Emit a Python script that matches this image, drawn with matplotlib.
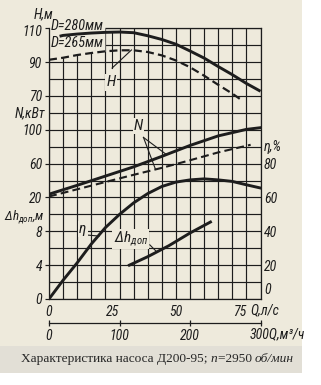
import matplotlib
matplotlib.use('Agg')
import matplotlib.pyplot as plt
from matplotlib.patches import Rectangle
from matplotlib.ticker import MultipleLocator
from matplotlib import font_manager as fm
import numpy as np

# ---------------- data ----------------
q_h280 = [15, 20, 40, 60, 80, 100, 120, 140, 160, 180, 200, 220, 240, 260, 280, 300]
h_280 = [105.3, 105.8, 106.6, 107.2, 107.6, 107.8, 107.4, 105.6, 103.4, 100.6, 96.6, 92.4, 87.4, 82.6, 77.4, 72.8]
q_h265 = [0, 20, 40, 60, 80, 100, 120, 140, 160, 180, 200, 220, 240, 260, 271]
h_265 = [91.4, 92.6, 94.2, 95.4, 96.4, 97.0, 97.0, 96.0, 94.0, 91.0, 87.0, 82.0, 76.6, 71.4, 68.2]
q_n280 = [0, 40, 80, 120, 160, 200, 240, 280, 300]
n_280 = [23.9, 34.4, 45.3, 56.2, 68.6, 81.5, 92.8, 100.5, 102.5]
q_n265 = [0, 40, 80, 120, 160, 200, 240, 286]
n_265 = [21.2, 29.7, 38.3, 46.8, 55.0, 64.0, 73.3, 82.3]
q_eta = [0, 20, 40, 60, 80, 100, 120, 140, 160, 180, 200, 220, 240, 260, 280, 300]
eta = [0, 11.1, 21.4, 32.5, 42.2, 50.0, 56.8, 62.3, 66.5, 69.1, 70.4, 71.0, 70.4, 69.5, 67.5, 65.6]
q_dh = [114, 140, 170, 200, 229]
dh = [4.0, 5.0, 6.3, 7.8, 9.1]

q_ls_ticks = [0, 90, 180, 270]
q_ls_labels = ['0', '25', '50', '75']
q_m3_ticks = [0, 100, 200, 300]
q_m3_labels = ['0', '100', '200', '']
h_ticks = [70, 90, 110]
n_ticks = [20, 60, 100]
dh_ticks = [0, 4, 8]
eta_ticks = [0, 20, 40, 60, 80]

# ---------------- style ----------------
BG = '#eeeadc'
BAND = '#e2dfd6'
INK = '#1d1d1d'

_names = {f.name for f in fm.fontManager.ttflist}
FONT, FS = ['DejaVu Sans'], 8.6
for cand, size in [('Roboto Condensed', 10), ('Liberation Sans Narrow', 10),
                   ('DejaVu Sans Condensed', 9.5), ('Roboto', 9.6), ('Liberation Sans', 9.6)]:
    if cand in _names:
        FONT, FS = [cand, 'DejaVu Sans'], size
        break
plt.rcParams['font.family'] = FONT
plt.rcParams['font.style'] = 'italic'
plt.rcParams['mathtext.fontset'] = 'custom'
plt.rcParams['mathtext.rm'] = FONT[0] + ':italic'
plt.rcParams['mathtext.it'] = FONT[0] + ':italic'

W, H = 321, 385
fig = plt.figure(figsize=(W / 100, H / 100), dpi=100, facecolor='white')
fig.patches.append(Rectangle((0, 1 - 346 / H), 302 / W, 346 / H, transform=fig.transFigure,
                             facecolor=BG, edgecolor='none', zorder=-10))
fig.patches.append(Rectangle((0, 1 - 373 / H), 302 / W, 27 / H, transform=fig.transFigure,
                             facecolor=BAND, edgecolor='none', zorder=-10))

L, R, T, B = 49, 260.5, 28.3, 299
ax = fig.add_axes([L / W, 1 - B / H, (R - L) / W, (B - T) / H])
ax.set_facecolor('none')
ax.set_xlim(0, 300)
ax.set_ylim(0, 32)
ax.xaxis.remove_overlapping_locs = False
ax.yaxis.remove_overlapping_locs = False
ax.xaxis.set_minor_locator(MultipleLocator(20))
ax.yaxis.set_minor_locator(MultipleLocator(2))
ax.grid(which='minor', color=INK, lw=0.85)
ax.grid(which='major', visible=False)
ax.set_xticks(q_ls_ticks)
ax.set_xticklabels(q_ls_labels)
ax.set_yticks(dh_ticks)
ax.tick_params(axis='x', which='both', length=0, pad=4.5, labelsize=FS, colors=INK)
ax.tick_params(axis='y', which='minor', length=0)
ax.tick_params(axis='y', which='major', length=3, width=0.85, pad=2, labelsize=FS, colors=INK)
for s in ['left', 'right']:
    ax.spines[s].set_visible(False)
for s in ['top', 'bottom']:
    ax.spines[s].set_color(INK)
    ax.spines[s].set_linewidth(0.9)

# N axis
ax_n = ax.twinx()
ax_n.yaxis.tick_left()
ax_n.set_ylim(-100, 220)
ax_n.set_yticks(n_ticks)
ax_n.tick_params(axis='y', length=3, width=0.85, pad=2, labelsize=FS, colors=INK)
# H axis
ax_h = ax.twinx()
ax_h.yaxis.tick_left()
ax_h.set_ylim(-50, 110)
ax_h.set_yticks(h_ticks)
ax_h.set_yticklabels(['70', '90', ''])
ax_h.tick_params(axis='y', length=3, width=0.85, pad=2, labelsize=FS, colors=INK)
# efficiency axis
ax_e = ax.twinx()
ax_e.set_ylim(0, 160)
ax_e.set_yticks(eta_ticks)
ax_e.set_yticklabels([''] + [str(v) for v in eta_ticks[1:]])
ax_e.tick_params(axis='y', length=0, pad=2.5, labelsize=FS, colors=INK)

for a in (ax_n, ax_h, ax_e):
    for s in a.spines.values():
        s.set_visible(False)
for s in ['left', 'right']:
    ax_e.spines[s].set_visible(True)
    ax_e.spines[s].set_color(INK)
    ax_e.spines[s].set_linewidth(0.9)

LW = 2.1
# mask above the dashed H curve where the D labels sit
qm = np.array(q_h265[:5])
ax_h.fill_between(qm, np.array(h_265[:5]) - 0.3, 111.6, facecolor=BG, edgecolor='none',
                  zorder=1.5, clip_on=False)

# H curves
ax_h.plot(q_h280, h_280, color=INK, lw=LW, zorder=3, solid_capstyle='butt')
ax_h.plot(q_h265, h_265, color=INK, lw=1.6, ls=(0, (3.6, 1.9)), zorder=3)
# N curves
ax_n.plot(q_n280, n_280, color=INK, lw=LW, zorder=3)
ax_n.plot(q_n265, n_265, color=INK, lw=1.5, ls=(0, (3.8, 2.0)), zorder=3)
# efficiency
ax_e.plot(q_eta, eta, color=INK, lw=LW, zorder=3)
# NPSH
ax.plot(q_dh, dh, color=INK, lw=LW, zorder=3)

lab_bbox = dict(boxstyle='square,pad=0.08', facecolor=BG, edgecolor='none')
# labels with leaders
ax_h.text(2, 111.2, 'D=280мм', ha='left', va='center', fontsize=FS + 0.3, color=INK, zorder=4)
ax_h.text(2, 101.4, 'D=265мм', ha='left', va='center', fontsize=FS + 0.3, color=INK, zorder=4)
ax_h.text(88, 78.0, 'H', ha='center', va='center', fontsize=FS + 1, color=INK, zorder=4, bbox=lab_bbox)
ax_h.plot([89.5, 89.5], [86.5, 107.7], color=INK, lw=0.8, zorder=3)
ax_h.plot([89.5, 117], [86.5, 97.2], color=INK, lw=0.8, zorder=3)

ax_n.text(127, 104.5, 'N', ha='center', va='center', fontsize=FS + 1, color=INK, zorder=4, bbox=lab_bbox)
ax_n.plot([134, 166.5], [91, 70.8], color=INK, lw=0.8, zorder=3)
ax_n.plot([134, 151], [91, 53.4], color=INK, lw=0.8, zorder=3)

ax_e.text(48, 41.5, 'η', ha='center', va='center', fontsize=FS + 1, color=INK, zorder=4, bbox=lab_bbox)
ax_e.plot([54, 71], [37.8, 37.2], color=INK, lw=0.8, zorder=3)

ax.text(116, 7.1, r'$\Delta h_{доп}$', ha='center', va='center', fontsize=FS + 1, color=INK,
        zorder=4, bbox=lab_bbox)
ax.plot([143, 153], [6.4, 5.56], color=INK, lw=0.8, zorder=3)

# axis titles and extra labels
ax_h.annotate('110', xy=(0, 110), xycoords=('axes fraction', 'data'), xytext=(-4.5, -3.0),
              textcoords='offset points', ha='right', va='center', fontsize=FS, color=INK)
ax_e.annotate('0', xy=(1, 0), xycoords=('axes fraction', 'data'), xytext=(2.5, 1.5),
              textcoords='offset points', ha='left', va='bottom', fontsize=FS, color=INK)
ax.text((44 - L) / (R - L), (B - 14) / (B - T), 'H,м', transform=ax.transAxes,
        ha='center', va='center', fontsize=FS, color=INK)
ax.text((45 - L) / (R - L), (B - 113) / (B - T), 'N,кВт', transform=ax.transAxes,
        ha='right', va='center', fontsize=FS, color=INK)
ax.text((45 - L) / (R - L), (B - 217) / (B - T), r'$\Delta h_{доп}$,м', transform=ax.transAxes,
        ha='right', va='center', fontsize=FS - 0.6, color=INK)
ax.text((264 - L) / (R - L), (B - 147.5) / (B - T), 'η,%', transform=ax.transAxes,
        ha='left', va='center', fontsize=FS, color=INK)
ax.text((250 - L) / (R - L), (B - 310) / (B - T), 'Q,л/с', transform=ax.transAxes,
        ha='left', va='center', fontsize=FS, color=INK)

# m3/h scale below
sec = ax.secondary_xaxis((B - 323.3) / (B - T))
sec.set_xticks(q_m3_ticks)
sec.set_xticklabels(q_m3_labels)
sec.tick_params(direction='inout', length=5, width=0.9, pad=1.5, labelsize=FS, colors=INK)
sec.spines['bottom'].set_color(INK)
sec.spines['bottom'].set_linewidth(0.9)
ax.text((250 - L) / (R - L), (B - 334) / (B - T), '300Q,м³/ч', transform=ax.transAxes,
        ha='left', va='center', fontsize=FS, color=INK)

# caption
SER = ['Liberation Serif', 'DejaVu Serif']
cs = 9.6
CC = '#262626'
t1 = fig.text(21 / W, 1 - 359 / H, 'Характеристика насоса Д200-95; ', family=SER, style='normal',
              fontsize=cs, color=CC, ha='left', va='center')
c2 = plt.annotate('n', xy=(1, 0.5), xycoords=t1, ha='left', va='center', family=SER,
                  style='italic', fontsize=cs, color=CC, annotation_clip=False)
c3 = plt.annotate('=2950 ', xy=(1, 0.5), xycoords=c2, ha='left', va='center', family=SER,
                  style='normal', fontsize=cs, color=CC, annotation_clip=False)
c4 = plt.annotate('об/мин', xy=(1, 0.5), xycoords=c3, ha='left', va='center', family=SER,
                  style='italic', fontsize=cs, color=CC, annotation_clip=False)

fig.savefig('out.png', dpi=100, facecolor=fig.get_facecolor())
